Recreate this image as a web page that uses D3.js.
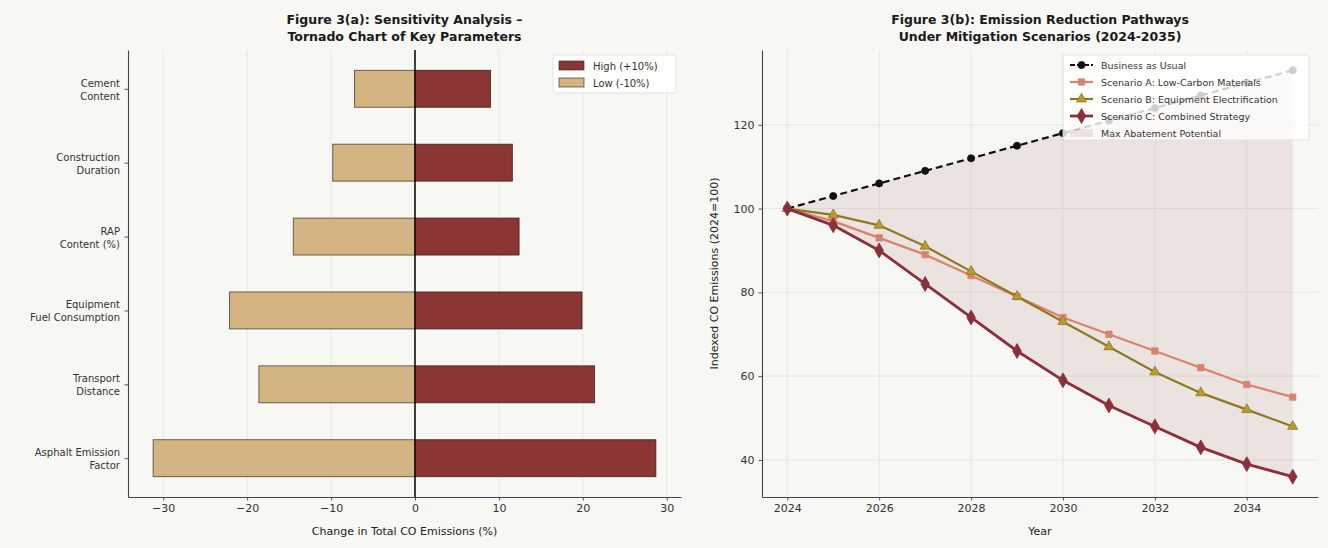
<!DOCTYPE html>
<html>
<head>
<meta charset="utf-8">
<script src="https://cdn.jsdelivr.net/npm/d3@7/dist/d3.min.js"></script>
<style>
  html, body { margin: 0; padding: 0; background: #f7f7f3; }
  svg { display: block; font-family: "DejaVu Sans", sans-serif; }
</style>
</head>
<body>
<svg id="fig" width="1328" height="548"></svg>
<script>
// ---- Sensitivity (tornado) data ----
const parameters = [
  "Asphalt Emission\nFactor",
  "Transport\nDistance",
  "Equipment\nFuel Consumption",
  "RAP\nContent (%)",
  "Construction\nDuration",
  "Cement\nContent"
];
const highChange = [28.7, 21.4, 19.9, 12.4, 11.6, 9.0];
const lowChange = [-31.2, -18.6, -22.1, -14.5, -9.8, -7.2];
const tornadoTicks = [-30, -20, -10, 0, 10, 20, 30];

// ---- Mitigation pathway data ----
const years = [2024, 2025, 2026, 2027, 2028, 2029, 2030, 2031, 2032, 2033, 2034, 2035];
const businessAsUsual = [100, 103, 106, 109, 112, 115, 118, 121, 124, 127, 130, 133];
const scenarioA = [100, 97, 93, 89, 84, 79, 74, 70, 66, 62, 58, 55];
const scenarioB = [100, 98.5, 96, 91, 85, 79, 73, 67, 61, 56, 52, 48];
const scenarioC = [100, 96, 90, 82, 74, 66, 59, 53, 48, 43, 39, 36];
const yearTicks = [2024, 2026, 2028, 2030, 2032, 2034];
const indexTicks = [40, 60, 80, 100, 120];

const BG = "#f7f7f3";
const AXIS = "#444";
const HIGH = "#8b3535";
const LOW = "#d4b483";

const svg = d3.select("#fig");
svg.append("rect").attr("width", 1328).attr("height", 548).attr("fill", BG);

function title(g, cx, lines) {
  lines.forEach((t, i) => {
    g.append("text").attr("x", cx).attr("y", 24 + i * 17)
      .attr("text-anchor", "middle").attr("font-size", 12.5).attr("font-weight", "bold")
      .attr("fill", "#1a1a1a").text(t);
  });
}

function styleAxis(g) {
  g.select(".domain").attr("stroke", AXIS).attr("stroke-width", 1.1);
  g.selectAll(".tick line").attr("stroke", AXIS).attr("stroke-width", 0.9);
  g.selectAll(".tick text").attr("fill", "#333").attr("font-family", "DejaVu Sans, sans-serif");
}

// ================= Left panel: tornado chart =================
(function () {
  const L = 128, R = 681, T = 50, B = 497;
  const xMin = -31.2 - 0.05 * 59.9, xMax = 28.7 + 0.05 * 59.9;
  const x = d3.scaleLinear().domain([xMin, xMax]).range([L, R]);
  const y = d3.scaleLinear().domain([-0.525, parameters.length - 1 + 0.525]).range([B, T]);
  const g = svg.append("g");

  // vertical grid
  g.selectAll("line.grid").data(tornadoTicks).enter().append("line")
    .attr("x1", d => x(d)).attr("x2", d => x(d)).attr("y1", T).attr("y2", B)
    .attr("stroke", "#dcdcd6").attr("stroke-width", 0.8).attr("opacity", 0.7);

  const bh = Math.abs(y(0.25) - y(-0.25));
  // low bars
  g.selectAll("rect.low").data(lowChange).enter().append("rect")
    .attr("x", d => x(Math.min(d, 0))).attr("width", d => Math.abs(x(d) - x(0)))
    .attr("y", (d, i) => y(i) - bh / 2).attr("height", bh)
    .attr("fill", LOW).attr("stroke", "#4a3a2a").attr("stroke-width", 0.9).attr("stroke-opacity", 0.85);
  // high bars
  g.selectAll("rect.high").data(highChange).enter().append("rect")
    .attr("x", x(0)).attr("width", d => x(d) - x(0))
    .attr("y", (d, i) => y(i) - bh / 2).attr("height", bh)
    .attr("fill", HIGH).attr("stroke", "#3a1a1a").attr("stroke-width", 0.9).attr("stroke-opacity", 0.85);

  // zero line
  g.append("line").attr("x1", x(0)).attr("x2", x(0)).attr("y1", T).attr("y2", B)
    .attr("stroke", "#111").attr("stroke-width", 1.6);

  // axes
  const xa = g.append("g").attr("transform", `translate(0,${B})`)
    .call(d3.axisBottom(x).tickValues(tornadoTicks).tickSize(3.5).tickSizeOuter(0).tickPadding(4)
      .tickFormat(d => d < 0 ? "\u2212" + Math.abs(d) : d));
  xa.selectAll("text").attr("font-size", 11);
  styleAxis(xa);

  const ya = g.append("g").attr("transform", `translate(${L},0)`)
    .call(d3.axisLeft(y).tickValues(d3.range(parameters.length)).tickSize(3.5).tickSizeOuter(0).tickFormat(""));
  styleAxis(ya);
  parameters.forEach((p, i) => {
    const lines = p.split("\n");
    const t = g.append("text").attr("text-anchor", "end").attr("font-size", 10).attr("fill", "#333");
    lines.forEach((ln, k) => {
      t.append("tspan").attr("x", L - 8)
        .attr("y", y(i) + (k - (lines.length - 1) / 2) * 13 + 4.5).text(ln);
    });
  });

  g.append("text").attr("x", (L + R) / 2).attr("y", 535).attr("text-anchor", "middle")
    .attr("font-size", 11).attr("fill", "#222").text("Change in Total CO Emissions (%)");
  title(g, (L + R) / 2, ["Figure 3(a): Sensitivity Analysis \u2013", "Tornado Chart of Key Parameters"]);

  // legend
  const lg = g.append("g").attr("transform", "translate(553,55)");
  lg.append("rect").attr("width", 123).attr("height", 38).attr("rx", 2)
    .attr("fill", "#ffffff").attr("fill-opacity", 0.8).attr("stroke", "#dddddd").attr("stroke-width", 0.8);
  [["High (+10%)", HIGH], ["Low (-10%)", LOW]].forEach(([lab, c], i) => {
    lg.append("rect").attr("x", 6).attr("y", 6 + i * 17).attr("width", 25).attr("height", 9)
      .attr("fill", c).attr("stroke", "#3a2a2a").attr("stroke-width", 0.8).attr("stroke-opacity", 0.8);
    lg.append("text").attr("x", 40).attr("y", 14.5 + i * 17).attr("font-size", 10)
      .attr("fill", "#333").text(lab);
  });
})();

// ================= Right panel: emission pathways =================
(function () {
  const L = 762, R = 1318, T = 50, B = 497;
  const x = d3.scaleLinear().domain([2024 - 0.55, 2035 + 0.55]).range([L, R]);
  const yLo = 36, yHi = 133, pad = 0.05 * (yHi - yLo);
  const y = d3.scaleLinear().domain([yLo - pad, yHi + pad]).range([B, T]);
  const g = svg.append("g");

  // grid
  g.selectAll("line.gx").data(yearTicks).enter().append("line")
    .attr("x1", d => x(d)).attr("x2", d => x(d)).attr("y1", T).attr("y2", B)
    .attr("stroke", "#dcdcd6").attr("stroke-width", 0.8).attr("opacity", 0.7);
  g.selectAll("line.gy").data(indexTicks).enter().append("line")
    .attr("x1", L).attr("x2", R).attr("y1", d => y(d)).attr("y2", d => y(d))
    .attr("stroke", "#dcdcd6").attr("stroke-width", 0.8).attr("opacity", 0.7);

  // shaded abatement band between BAU and combined strategy
  const band = d3.area().x((d, i) => x(years[i]))
    .y0((d, i) => y(scenarioC[i])).y1((d, i) => y(businessAsUsual[i]));
  g.append("path").datum(years).attr("d", band)
    .attr("fill", "#8b3a3a").attr("fill-opacity", 0.1);

  const line = vals => d3.line().x((d, i) => x(years[i])).y((d, i) => y(vals[i]))(vals);

  const series = [
    { name: "Business as Usual", vals: businessAsUsual, color: "#111111", width: 2.2, dash: "7,4", shape: d3.symbolCircle, size: 40 },
    { name: "Scenario A: Low-Carbon Materials", vals: scenarioA, color: "#d9826c", width: 2.2, dash: null, shape: d3.symbolSquare, size: 40 },
    { name: "Scenario B: Equipment Electrification", vals: scenarioB, color: "#8b7a22", width: 2.2, dash: null, shape: d3.symbolTriangle, size: 44, mfill: "#b89a30" },
    { name: "Scenario C: Combined Strategy", vals: scenarioC, color: "#8b2f3a", width: 2.8, dash: null, shape: d3.symbolDiamond, size: 64 }
  ];

  series.forEach(s => {
    g.append("path").attr("d", line(s.vals)).attr("fill", "none")
      .attr("stroke", s.color).attr("stroke-width", s.width)
      .attr("stroke-dasharray", s.dash).attr("stroke-linejoin", "round");
    g.selectAll(null).data(s.vals).enter().append("path")
      .attr("d", d3.symbol().type(s.shape).size(s.size))
      .attr("transform", (d, i) => `translate(${x(years[i])},${y(d)})`)
      .attr("fill", s.mfill || s.color).attr("stroke", s.color).attr("stroke-width", 0.8);
  });

  // axes
  const xa = g.append("g").attr("transform", `translate(0,${B})`)
    .call(d3.axisBottom(x).tickValues(yearTicks).tickSize(3.5).tickSizeOuter(0).tickPadding(4).tickFormat(d3.format("d")));
  xa.selectAll("text").attr("font-size", 11);
  styleAxis(xa);
  const ya = g.append("g").attr("transform", `translate(${L},0)`)
    .call(d3.axisLeft(y).tickValues(indexTicks).tickSize(3.5).tickSizeOuter(0).tickPadding(4));
  ya.selectAll("text").attr("font-size", 11);
  styleAxis(ya);

  g.append("text").attr("x", (L + R) / 2).attr("y", 535).attr("text-anchor", "middle")
    .attr("font-size", 11).attr("fill", "#222").text("Year");
  g.append("text").attr("transform", `translate(718,${(T + B) / 2}) rotate(-90)`)
    .attr("text-anchor", "middle").attr("font-size", 11).attr("fill", "#222")
    .text("Indexed CO Emissions (2024=100)");
  title(g, (L + R) / 2, ["Figure 3(b): Emission Reduction Pathways", "Under Mitigation Scenarios (2024-2035)"]);

  // legend
  const lg = g.append("g").attr("transform", "translate(1063,55)");
  lg.append("rect").attr("width", 246).attr("height", 85).attr("rx", 2)
    .attr("fill", "#ffffff").attr("fill-opacity", 0.8).attr("stroke", "#dddddd").attr("stroke-width", 0.8);
  series.forEach((s, i) => {
    const cy = 10 + i * 17;
    lg.append("line").attr("x1", 7).attr("x2", 30).attr("y1", cy).attr("y2", cy)
      .attr("stroke", s.color).attr("stroke-width", s.width).attr("stroke-dasharray", s.dash ? "5,2" : null);
    lg.append("path").attr("d", d3.symbol().type(s.shape).size(s.size))
      .attr("transform", `translate(18.5,${cy})`)
      .attr("fill", s.mfill || s.color).attr("stroke", s.color).attr("stroke-width", 0.8);
    lg.append("text").attr("x", 38).attr("y", cy + 3.5).attr("font-size", 9.5)
      .attr("fill", "#333").text(s.name);
  });
  lg.append("rect").attr("x", 7).attr("y", 74).attr("width", 23).attr("height", 8)
    .attr("fill", "#8b3a3a").attr("fill-opacity", 0.12);
  lg.append("text").attr("x", 38).attr("y", 81.5).attr("font-size", 9.5)
    .attr("fill", "#333").text("Max Abatement Potential");
})();
</script>
</body>
</html>
